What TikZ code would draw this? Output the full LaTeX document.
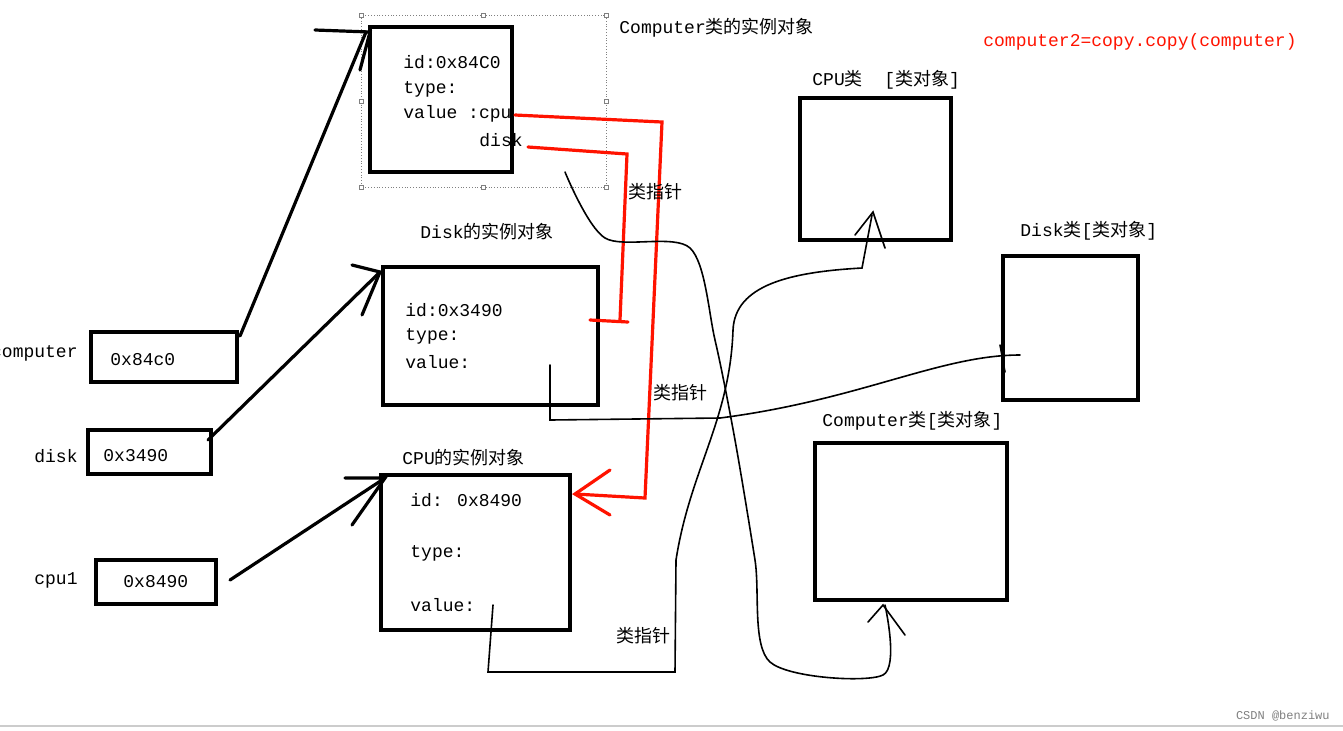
\documentclass[tikz,border=0pt]{standalone}
\usepackage{fontspec}
\setmainfont{Liberation Mono}
\newfontfamily\cjk{Noto Sans CJK SC}
\newcommand{\zh}[1]{{\cjk #1}}
\begin{document}
\begin{tikzpicture}[x=0.5pt,y=-0.5pt]
            \tikzset{every node/.style={inner sep=0pt,font=\fontsize{9}{11}\selectfont},
              objbox/.style={draw,line width=1.6pt},
              hand/.style={line width=1.6pt,line cap=round},
              redline/.style={draw=red!85!orange,line width=1.6pt,line cap=round},
              thin/.style={line width=0.8pt,line cap=round}}
            \useasboundingbox (0,0) rectangle (1343,730);
            \fill[white] (0,0) rectangle (1343,730);
            \draw[gray!40,line width=1pt] (0,726) -- (1343,726);
            % instance objects
            \draw[gray,densely dotted] (361,15) rectangle (606,187);
            \foreach \p in {(361,15),(483,15),(606,15),(361,101),(606,101),(361,187),(483,187),(606,187)}
              \draw[gray,fill=white] \p +(-2,-2) rectangle +(2,2);
            \draw [objbox] (370,27) rectangle (512,172);
            \node[anchor=west] (cid) at (403,62) {id:0x84C0};
            \node[anchor=west] (ctype) at (403,89) {type:};
            \node[anchor=west] (cval) at (403,114) {value :cpu};
            \node[anchor=west] (cdisk) at (479,140) {disk};
            \node[anchor=west] (ctitle) at (619,28) {Computer\zh{类的实例对象}};
            \draw [objbox] (383,267) rectangle (598,405);
            \node[anchor=west] (did) at (405,310) {id:0x3490};
            \node[anchor=west] (dtype) at (405,336) {type:};
            \node[anchor=west] (dval) at (405,362) {value:};
            \node[anchor=west] (dtitle) at (420,232) {Disk\zh{的实例对象}};
            \draw [objbox] (381,475) rectangle (570,630);
            \node[anchor=west] (pid) at (410,500) {id: 0x8490};
            \node[anchor=west] (ptype) at (410,553) {type:};
            \node[anchor=west] (pval) at (410,605) {value:};
            \node[anchor=west] (ptitle) at (402,458) {CPU\zh{的实例对象}};
            % variables
            \draw [objbox] (91,332) rectangle (237,382);
            \node[anchor=west] (vc) at (110,360) {0x84c0};
            \node[anchor=east] (lc) at (78,353) {computer};
            \draw [objbox] (88,430) rectangle (211,474);
            \node[anchor=west] (vd) at (103,456) {0x3490};
            \node[anchor=east] (ld) at (78,456) {disk};
            \draw [objbox] (96,560) rectangle (216,604);
            \node[anchor=west] (vp) at (123,582) {0x8490};
            \node[anchor=east] (lp) at (78,580) {cpu1};
            % class objects
            \draw [objbox] (800,98) rectangle (951,240);
            \node[anchor=west] (t1) at (812,80) {CPU\zh{类}\ \ [\zh{类对象}]};
            \draw [objbox] (1003,256) rectangle (1138,400);
            \node[anchor=west] (t2) at (1020,231) {Disk\zh{类}[\zh{类对象}]};
            \draw [objbox] (815,443) rectangle (1007,600);
            \node[anchor=west] (t3) at (822,421) {Computer\zh{类}[\zh{类对象}]};
            \node[anchor=east,text=red!85!orange] (cp) at (1297,42) {computer2=copy.copy(computer)};
            % references
            \draw [hand] (240,336) -- (366,32);
            \draw [hand] (315,30) -- (370,32) -- (360,70);
            \draw [hand] (208,440) -- (380,272);
            \draw [hand] (352,265) -- (380,272) -- (362,315);
            \draw [hand] (230,580) -- (385,478);
            \draw [hand] (345,478) -- (385,478) -- (352,525);
            \draw [redline] (515,115) -- (662,122) -- (645,498) -- (575,494);
            \draw [redline] (610,470) -- (575,494) -- (610,515);
            \draw [redline] (528,147) -- (627,154) -- (620,320);
            \draw [redline] (590,320) -- (628,322);
            % class pointers
            \draw [thin] plot[smooth,tension=0.5] coordinates {(565,172) (605,238) (690,248) (715,340) (735,440) (755,560) (770,662) (883,675) (885,605)};
            \draw [thin] (868,622) -- (883,605) -- (905,635);
            \draw [thin] (550,365) -- (550,420) -- (720,418) .. controls (860,400) and (940,355) .. (1020,355);
            \draw [thin] (1000,345) -- (1005,372);
            \draw [thin] (493,605) -- (488,672) -- (675,672) -- (676,560) .. controls (690,470) and (730,420) .. (733,330) .. controls (735,285) and (790,272) .. (862,268) -- (872,215);
            \draw [thin] (855,235) -- (873,212) -- (885,248);
            \node (p1) at (655,192) {\zh{类指针}};
            \node (p2) at (680,393) {\zh{类指针}};
            \node (p3) at (643,636) {\zh{类指针}};
            \node[anchor=east,text=gray,font=\fontsize{6}{7}\selectfont] (wm) at (1330,716) {CSDN @benziwu};
\end{tikzpicture}
\end{document}
